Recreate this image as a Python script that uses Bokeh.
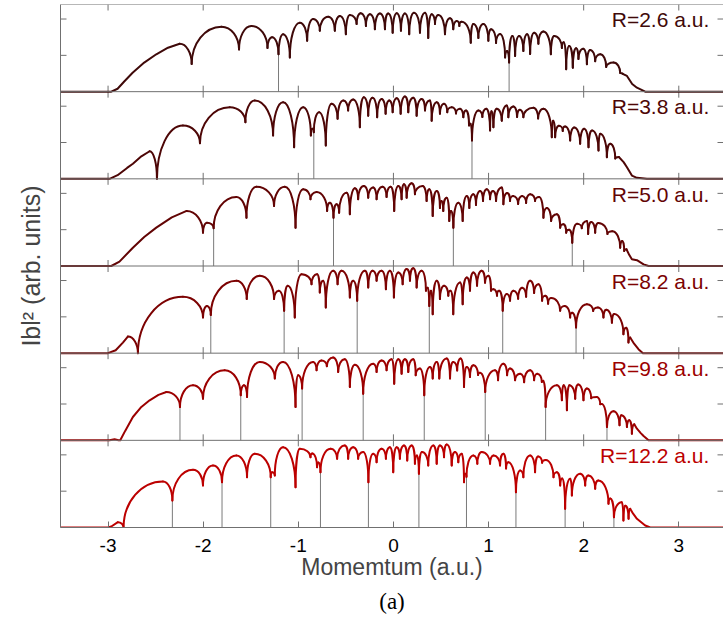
import numpy as np
from bokeh.plotting import figure
from bokeh.models import Range1d, FixedTicker, LinearAxis, Span, Title, Label
from bokeh.embed import file_html
from bokeh.resources import INLINE

# ---------------- data ----------------
x_ticks = [-3, -2, -1, 0, 1, 2, 3]
y_ticks = [0.5, 1.0]
panel_labels = ["R=2.6 a.u.", "R=3.8 a.u.", "R=5.0 a.u.", "R=8.2 a.u.", "R=9.8 a.u.", "R=12.2 a.u."]

# Each panel: "head" (momentum, |b|^2) points up to the first maximum,
# then alternating maxima / minima (ext), then the "tail" down to zero.
head_r26 = [(-3.5, 0), (-2.966, 0), (-2.90, 0.04), (-2.83, 0.14), (-2.742, 0.26), (-2.62, 0.40),
            (-2.493, 0.515), (-2.37, 0.605), (-2.247, 0.66)]
ext_r26 = [(-2.247, 0.66), (-2.121, 0.38), (-1.808, 0.895), (-1.623, 0.58), (-1.493, 0.905), (-1.324, 0.60),
           (-1.276, 0.75), (-1.208, 0.515), (-1.160, 0.79), (-1.089, 0.47), (-0.984, 0.95), (-0.907, 0.70),
           (-0.844, 1.0), (-0.774, 0.84), (-0.686, 1.03), (-0.616, 0.84), (-0.563, 1.04), (-0.5, 0.79),
           (-0.458, 1.056), (-0.387, 0.93), (-0.345, 1.08), (-0.289, 0.905), (-0.247, 1.066), (-0.195, 0.86),
           (-0.142, 1.075), (-0.089, 0.86), (-0.055, 1.075), (-0.008, 0.81), (0.034, 1.08), (0.079, 0.84),
           (0.121, 1.075), (0.166, 0.79), (0.216, 1.088), (0.279, 0.81), (0.332, 1.088), (0.366, 0.74),
           (0.402, 1.066), (0.437, 0.93), (0.472, 1.056), (0.542, 0.79), (0.595, 1.01), (0.629, 0.86),
           (0.665, 0.974), (0.693, 0.905), (0.718, 0.964), (0.813, 0.675), (0.84, 0.93), (0.893, 0.74),
           (0.945, 0.93), (0.998, 0.70), (1.026, 0.86), (1.079, 0.67), (1.121, 0.795), (1.174, 0.47),
           (1.195, 0.56), (1.216, 0.40), (1.25, 0.767), (1.279, 0.49), (1.321, 0.767), (1.366, 0.56),
           (1.405, 0.79), (1.437, 0.52), (1.479, 0.81), (1.524, 0.66), (1.577, 0.83), (1.655, 0.515),
           (1.69, 0.767), (1.771, 0.60), (1.79, 0.68), (1.816, 0.31), (1.847, 0.63), (1.886, 0.33),
           (1.921, 0.596), (1.945, 0.45), (1.995, 0.59), (2.034, 0.377), (2.068, 0.575), (2.121, 0.42),
           (2.174, 0.515), (2.237, 0.34), (2.314, 0.40), (2.384, 0.258), (2.41, 0.245)]
tail_r26 = [(2.41, 0.245), (2.455, 0.216), (2.51, 0.106), (2.56, 0.055), (2.647, 0), (3.5, 0)]
nodes_r26 = [-1.208, 1.216]

head_r38 = [(-3.5, 0), (-2.984, 0), (-2.90, 0.05), (-2.80, 0.15), (-2.739, 0.207), (-2.65, 0.31),
            (-2.563, 0.38)]
ext_r38 = [(-2.563, 0.38), (-2.486, 0.0), (-2.213, 0.734), (-2.034, 0.49), (-1.721, 0.986), (-1.556, 0.78),
           (-1.458, 1.078), (-1.265, 0.596), (-1.16, 1.055), (-1.044, 0.435), (-0.949, 0.986), (-0.868, 0.596),
           (-0.853, 0.69), (-0.837, 0.64), (-0.781, 0.917), (-0.711, 0.459), (-0.651, 1.033), (-0.587, 0.826),
           (-0.528, 1.078), (-0.476, 0.94), (-0.423, 1.092), (-0.353, 0.71), (-0.311, 1.124), (-0.265, 0.87),
           (-0.219, 1.116), (-0.171, 0.848), (-0.124, 1.10), (-0.082, 0.895), (-0.044, 1.078), (-0.008, 0.917),
           (0.034, 1.11), (0.076, 0.895), (0.121, 1.133), (0.156, 0.917), (0.208, 1.116), (0.244, 0.87),
           (0.297, 1.10), (0.332, 0.94), (0.384, 1.078), (0.402, 0.80), (0.455, 1.055), (0.489, 0.895),
           (0.532, 1.033), (0.566, 0.917), (0.613, 0.986), (0.658, 0.90), (0.70, 0.964), (0.735, 0.848),
           (0.763, 0.94), (0.795, 0.734), (0.81, 0.76), (0.826, 0.527), (0.893, 0.94), (0.935, 0.85),
           (0.975, 0.964), (1.016, 0.665), (1.03, 0.93), (1.051, 0.71), (1.086, 0.964), (1.139, 0.80),
           (1.192, 1.01), (1.208, 0.848), (1.261, 0.996), (1.30, 0.85), (1.33, 0.95), (1.366, 0.848),
           (1.472, 0.978), (1.521, 0.83), (1.577, 0.964), (1.665, 0.573), (1.679, 0.80), (1.70, 0.573),
           (1.74, 0.73), (1.78, 0.66), (1.805, 0.72), (1.858, 0.527), (1.90, 0.706), (1.963, 0.482),
           (2.005, 0.69), (2.051, 0.435), (2.089, 0.665), (2.156, 0.39), (2.174, 0.62), (2.244, 0.297),
           (2.279, 0.482), (2.332, 0.28), (2.37, 0.30)]
tail_r38 = [(2.37, 0.30), (2.42, 0.23), (2.455, 0.16), (2.507, 0.045), (2.56, 0.014), (2.665, 0), (3.5, 0)]
nodes_r38 = [-0.837, 0.826]

head_r50 = [(-3.5, 0), (-2.966, 0), (-2.88, 0.06), (-2.739, 0.252), (-2.62, 0.40), (-2.493, 0.528),
            (-2.33, 0.67), (-2.174, 0.758)]
ext_r50 = [(-2.174, 0.758), (-2.002, 0.459), (-1.96, 0.596), (-1.89, 0.519), (-1.651, 0.95), (-1.545, 0.665),
           (-1.44, 1.09), (-1.255, 0.826), (-1.142, 1.09), (-1.029, 0.528), (-0.949, 1.055), (-0.872, 0.918),
           (-0.808, 1.02), (-0.697, 0.758), (-0.668, 0.87), (-0.63, 0.665), (-0.598, 0.85), (-0.571, 0.734),
           (-0.493, 1.01), (-0.458, 0.712), (-0.405, 1.07), (-0.371, 0.918), (-0.311, 1.10), (-0.265, 0.94),
           (-0.213, 1.08), (-0.177, 0.918), (-0.114, 1.09), (-0.072, 0.95), (-0.029, 1.09), (0.008, 0.758),
           (0.051, 1.10), (0.086, 0.918), (0.111, 1.125), (0.139, 0.94), (0.192, 1.14), (0.226, 0.988),
           (0.307, 1.10), (0.349, 0.895), (0.377, 1.055), (0.413, 0.689), (0.455, 1.033), (0.489, 0.80),
           (0.505, 0.895), (0.524, 0.758), (0.56, 0.94), (0.587, 0.62), (0.605, 0.758), (0.63, 0.528),
           (0.682, 0.87), (0.728, 0.62), (0.771, 0.964), (0.798, 0.80), (0.84, 0.988), (0.868, 0.84),
           (0.911, 1.033), (0.942, 0.895), (0.981, 1.055), (1.016, 0.92), (1.047, 1.033), (1.079, 0.895),
           (1.139, 1.08), (1.156, 0.85), (1.195, 1.006), (1.226, 0.895), (1.258, 0.964), (1.311, 0.854),
           (1.353, 0.964), (1.395, 0.868), (1.437, 0.988), (1.489, 0.895), (1.532, 0.95), (1.577, 0.665),
           (1.613, 0.80), (1.658, 0.62), (1.718, 0.712), (1.753, 0.528), (1.787, 0.574), (1.816, 0.459),
           (1.847, 0.50), (1.88, 0.32), (1.93, 0.58), (1.98, 0.52), (2.034, 0.62), (2.047, 0.44),
           (2.079, 0.606), (2.121, 0.459), (2.153, 0.592), (2.25, 0.44), (2.30, 0.48), (2.384, 0.252),
           (2.405, 0.344), (2.426, 0.207), (2.45, 0.23)]
tail_r50 = [(2.45, 0.23), (2.48, 0.15), (2.507, 0.092), (2.56, 0.08), (2.63, 0.023), (2.682, 0), (3.5, 0)]
nodes_r50 = [-1.89, -0.63, 0.63, 1.88]

head_r82 = [(-3.5, 0), (-3.0, 0), (-2.92, 0.04), (-2.844, 0.146), (-2.792, 0.229)]
ext_r82 = [(-2.792, 0.229), (-2.686, 0.0), (-2.213, 0.775), (-2.002, 0.49), (-1.96, 0.65), (-1.92, 0.527),
           (-1.651, 0.996), (-1.542, 0.744), (-1.405, 1.065), (-1.255, 0.744), (-1.205, 0.858), (-1.149, 0.583),
           (-1.111, 0.927), (-1.037, 0.49), (-0.966, 1.088), (-0.861, 0.95), (-0.802, 1.088), (-0.774, 0.835),
           (-0.739, 0.996), (-0.711, 0.628), (-0.634, 1.134), (-0.587, 0.95), (-0.545, 1.134), (-0.458, 0.766),
           (-0.423, 0.996), (-0.381, 0.72), (-0.30, 1.134), (-0.265, 0.904), (-0.219, 1.134), (-0.177, 0.996),
           (-0.124, 1.134), (-0.079, 0.88), (-0.037, 1.134), (0.005, 0.766), (0.051, 1.11), (0.097, 0.95),
           (0.139, 1.157), (0.174, 0.996), (0.208, 1.17), (0.244, 0.904), (0.297, 1.134), (0.342, 0.858),
           (0.36, 0.90), (0.377, 0.65), (0.395, 0.858), (0.413, 0.537), (0.455, 0.996), (0.489, 0.744),
           (0.532, 0.927), (0.577, 0.79), (0.60, 0.858), (0.629, 0.537), (0.70, 0.972), (0.728, 0.675),
           (0.771, 1.041), (0.805, 0.858), (0.84, 1.11), (0.879, 0.927), (0.928, 1.134), (0.963, 0.968),
           (0.998, 1.065), (1.026, 0.858), (1.051, 0.88), (1.089, 0.79), (1.111, 0.858), (1.149, 0.583),
           (1.192, 0.813), (1.226, 0.72), (1.261, 0.858), (1.311, 0.748), (1.353, 0.90), (1.395, 0.775),
           (1.437, 0.996), (1.479, 0.83), (1.524, 0.95), (1.563, 0.72), (1.595, 0.79), (1.626, 0.68),
           (1.658, 0.76), (1.753, 0.583), (1.80, 0.65), (1.858, 0.49), (1.879, 0.555), (1.92, 0.353),
           (2.034, 0.675), (2.1, 0.58), (2.15, 0.63), (2.208, 0.49), (2.237, 0.596), (2.297, 0.42),
           (2.321, 0.54), (2.418, 0.26), (2.447, 0.35), (2.471, 0.146), (2.489, 0.215)]
tail_r82 = [(2.489, 0.215), (2.53, 0.13), (2.576, 0.055), (2.623, 0), (3.5, 0)]
nodes_r82 = [-1.92, -1.149, -0.381, 0.377, 1.149, 1.92]

head_r98 = [(-3.5, 0), (-2.984, 0), (-2.932, 0.014), (-2.89, 0), (-2.872, 0), (-2.82, 0.13),
            (-2.739, 0.321), (-2.65, 0.46), (-2.563, 0.551), (-2.47, 0.625), (-2.387, 0.665)]
ext_r98 = [(-2.387, 0.665), (-2.244, 0.459), (-2.107, 0.758), (-2.002, 0.574), (-1.774, 0.964), (-1.605, 0.62),
           (-1.571, 0.758), (-1.539, 0.597), (-1.405, 1.08), (-1.247, 0.85), (-1.16, 1.08), (-1.029, 0.459),
           (-1.002, 0.895), (-0.96, 0.712), (-0.844, 1.08), (-0.808, 0.964), (-0.756, 1.10), (-0.70, 1.02),
           (-0.634, 1.14), (-0.581, 0.94), (-0.511, 1.116), (-0.458, 0.734), (-0.405, 1.04), (-0.318, 0.643),
           (-0.213, 1.056), (-0.177, 0.94), (-0.124, 1.10), (-0.072, 0.964), (-0.019, 1.116), (0.008, 0.78),
           (0.051, 1.116), (0.086, 0.918), (0.121, 1.116), (0.156, 0.94), (0.208, 1.116), (0.234, 0.895),
           (0.279, 0.988), (0.324, 0.62), (0.384, 1.01), (0.413, 0.85), (0.455, 1.08), (0.482, 0.85),
           (0.56, 1.125), (0.595, 0.85), (0.629, 1.08), (0.67, 0.96), (0.707, 1.125), (0.742, 0.734),
           (0.771, 1.01), (0.805, 0.872), (0.84, 1.033), (0.89, 0.90), (0.91, 0.93), (0.965, 0.665),
           (1.068, 0.964), (1.1, 0.826), (1.156, 1.056), (1.195, 0.895), (1.226, 0.988), (1.279, 0.826),
           (1.332, 0.918), (1.374, 0.80), (1.437, 0.964), (1.479, 0.826), (1.511, 0.918), (1.56, 0.803),
           (1.575, 0.82), (1.6, 0.459), (1.718, 0.758), (1.771, 0.551), (1.79, 0.758), (1.824, 0.413),
           (1.849, 0.758), (1.911, 0.574), (1.942, 0.767), (1.998, 0.551), (2.034, 0.712), (2.079, 0.579),
           (2.139, 0.597), (2.174, 0.496), (2.19, 0.50), (2.245, 0.183), (2.314, 0.40), (2.377, 0.207),
           (2.395, 0.344), (2.455, 0.183), (2.479, 0.275), (2.507, 0.092), (2.532, 0.22)]
tail_r98 = [(2.532, 0.22), (2.56, 0.16), (2.60, 0.10), (2.63, 0.059), (2.682, 0), (3.5, 0)]
nodes_r98 = [-2.244, -1.605, -0.96, -0.318, 0.324, 0.965, 1.6, 2.245]

head_r122 = [(-3.5, 0), (-3.0, 0), (-2.966, 0.014), (-2.897, 0.073)]
ext_r122 = [(-2.897, 0.073), (-2.837, 0.0), (-2.423, 0.634), (-2.324, 0.372), (-2.107, 0.795), (-2.002, 0.579),
            (-1.897, 0.854), (-1.802, 0.624), (-1.651, 0.992), (-1.539, 0.693), (-1.458, 1.015), (-1.29, 0.693),
            (-1.276, 0.762), (-1.247, 0.716), (-1.16, 1.106), (-1.029, 0.555), (-0.984, 1.084), (-0.872, 0.968),
            (-0.853, 1.019), (-0.803, 0.83), (-0.789, 0.895), (-0.767, 0.762), (-0.661, 1.084), (-0.592, 0.946),
            (-0.511, 1.13), (-0.476, 0.946), (-0.423, 1.106), (-0.371, 0.946), (-0.318, 1.038), (-0.263, 0.624),
            (-0.213, 1.015), (-0.177, 0.90), (-0.124, 1.084), (-0.079, 0.946), (-0.037, 1.106), (-0.002, 0.762),
            (0.034, 1.106), (0.068, 0.946), (0.111, 1.13), (0.145, 0.923), (0.192, 1.13), (0.226, 0.877),
            (0.247, 0.992), (0.268, 0.74), (0.30, 1.038), (0.366, 0.854), (0.419, 1.13), (0.455, 0.877),
            (0.489, 1.13), (0.532, 0.968), (0.56, 1.143), (0.613, 0.854), (0.647, 1.038), (0.682, 0.90),
            (0.718, 1.015), (0.742, 0.624), (0.753, 0.74), (0.768, 0.70), (0.84, 0.992), (0.882, 0.877),
            (0.928, 1.038), (1.016, 0.877), (1.051, 0.992), (1.121, 0.854), (1.156, 1.015), (1.184, 0.813),
            (1.208, 0.90), (1.288, 0.486), (1.332, 0.785), (1.366, 0.693), (1.437, 0.992), (1.489, 0.762),
            (1.521, 0.978), (1.563, 0.89), (1.60, 0.93), (1.683, 0.693), (1.718, 0.762), (1.753, 0.579),
            (1.774, 0.675), (1.805, 0.258), (1.858, 0.671), (1.876, 0.441), (1.963, 0.74), (2.016, 0.579),
            (2.047, 0.716), (2.121, 0.533), (2.153, 0.647), (2.261, 0.326), (2.279, 0.40), (2.318, 0.142),
            (2.40, 0.348), (2.418, 0.096), (2.437, 0.30), (2.472, 0.12), (2.489, 0.258)]
tail_r122 = [(2.489, 0.258), (2.52, 0.19), (2.56, 0.12), (2.647, 0.028), (2.70, 0), (3.5, 0)]
nodes_r122 = [-2.324, -1.802, -1.29, -0.767, -0.263, 0.268, 0.768, 1.288, 1.805, 2.318]

heads = [head_r26, head_r38, head_r50, head_r82, head_r98, head_r122]
exts = [ext_r26, ext_r38, ext_r50, ext_r82, ext_r98, ext_r122]
tails = [tail_r26, tail_r38, tail_r50, tail_r82, tail_r98, tail_r122]
nodes = [nodes_r26, nodes_r38, nodes_r50, nodes_r82, nodes_r98, nodes_r122]

# ---------------- styling ----------------
line_colors = ["#3f0909", "#4d0606", "#620404", "#7c0202", "#9c0000", "#bc0000"]
frame_gray = "#707070"
node_gray = "#7a7a7a"
FONT = "Liberation Sans"
PANEL_H = 1.2
N = len(exts)
K = 0.5523          # quarter-ellipse handle for the Bezier arcs
X0, X1 = -3.5, 3.47
FW, FH = 663, 523   # frame size in px

p = figure(frame_width=FW, frame_height=FH, output_backend="svg", toolbar_location=None,
           x_range=Range1d(X0, X1), y_range=Range1d(0, PANEL_H * N),
           x_axis_type=None, y_axis_type=None,
           min_border_left=60, min_border_right=0, min_border_top=4, min_border_bottom=8)
p.outline_line_color = None
p.grid.visible = False

# bottom axis with labels
bottom = LinearAxis(ticker=FixedTicker(ticks=x_ticks))
bottom.major_label_overrides = {t: str(t) for t in x_ticks}
bottom.major_tick_in = 6
bottom.major_tick_out = 0
bottom.minor_tick_line_color = None
bottom.major_tick_line_color = frame_gray
bottom.axis_line_color = frame_gray
bottom.major_label_text_font = FONT
bottom.major_label_text_font_size = "19px"
bottom.major_label_text_color = "black"
bottom.major_label_standoff = 11
bottom.axis_label = "Momemtum (a.u.)"
bottom.axis_label_text_font = FONT
bottom.axis_label_text_font_size = "23px"
bottom.axis_label_text_font_style = "normal"
bottom.axis_label_standoff = -1
p.add_layout(bottom, "below")

# left axis: only the border line and the title
left = LinearAxis(ticker=FixedTicker(ticks=[]))
left.axis_line_color = frame_gray
left.major_label_standoff = 0
left.axis_label = "Ibl² (arb. units)"
left.axis_label_text_font = FONT
left.axis_label_text_font_size = "25px"
left.axis_label_text_font_style = "normal"
left.axis_label_standoff = 16
p.add_layout(left, "left")

# top border and panel separators
for k in range(1, N + 1):
    p.add_layout(Span(location=k * PANEL_H, dimension="width", line_color=frame_gray, line_width=1))

# inward tick marks of every panel
tdx = 6 * (X1 - X0) / FW
tdy = 6 * (PANEL_H * N) / FH
tx0, ty0, tx1, ty1 = [], [], [], []
for k in range(N):
    base = k * PANEL_H
    for t in y_ticks:
        tx0 += [X0, X1 - tdx]
        tx1 += [X0 + tdx, X1]
        ty0 += [base + t, base + t]
        ty1 += [base + t, base + t]
for k in range(1, N + 1):
    base = k * PANEL_H
    for t in x_ticks:
        tx0.append(t)
        tx1.append(t)
        ty0.append(base - tdy)
        ty1.append(base + (tdy if k < N else 0))
p.segment(x0=tx0, y0=ty0, x1=tx1, y1=ty1, line_color=frame_gray, line_width=1)

for i in range(N):
    base = (N - 1 - i) * PANEL_H
    col = line_colors[i]
    ex = np.array([e[0] for e in exts[i]])
    ey = np.array([e[1] for e in exts[i]])

    # nodal lines from the baseline up to the minimum of the curve
    nd = nodes[i]
    ntop = np.interp(nd, ex, ey)
    p.segment(x0=nd, y0=[base] * len(nd), x1=nd, y1=list(ntop + base),
              line_color=node_gray, line_width=1)

    hx = [h[0] for h in heads[i]]
    hy = [h[1] + base for h in heads[i]]
    p.line(hx, hy, line_color=col, line_width=2, line_join="round", line_cap="round")
    tx = [h[0] for h in tails[i]]
    ty = [h[1] + base for h in tails[i]]
    p.line(tx, ty, line_color=col, line_width=2, line_join="round", line_cap="round")

    # arcs between neighbouring extrema: flat at a maximum, steep at a minimum
    xa, ya, xb, yb = ex[:-1], ey[:-1], ex[1:], ey[1:]
    down = yb < ya
    dx = xb - xa
    cx0 = np.where(down, xa + K * dx, xa)
    cy0 = np.where(down, ya, ya + K * (yb - ya))
    cx1 = np.where(down, xb, xb - K * dx)
    cy1 = np.where(down, yb + K * (ya - yb), yb)
    p.bezier(x0=xa, y0=ya + base, x1=xb, y1=yb + base, cx0=cx0, cy0=cy0 + base,
             cx1=cx1, cy1=cy1 + base, line_color=col, line_width=2, line_cap="round")

    p.add_layout(Label(x=3.32, y=base + 0.99, text=panel_labels[i], text_align="right",
                       text_baseline="alphabetic", text_font=FONT, text_font_size="21px",
                       text_color=col))

cap = Title(text="(a)", align="center", text_font="Liberation Serif", text_font_size="23px",
            text_font_style="normal", text_color="black", standoff=9)
p.add_layout(cap, "below")

open("out.html", "w").write(file_html(p, INLINE))
